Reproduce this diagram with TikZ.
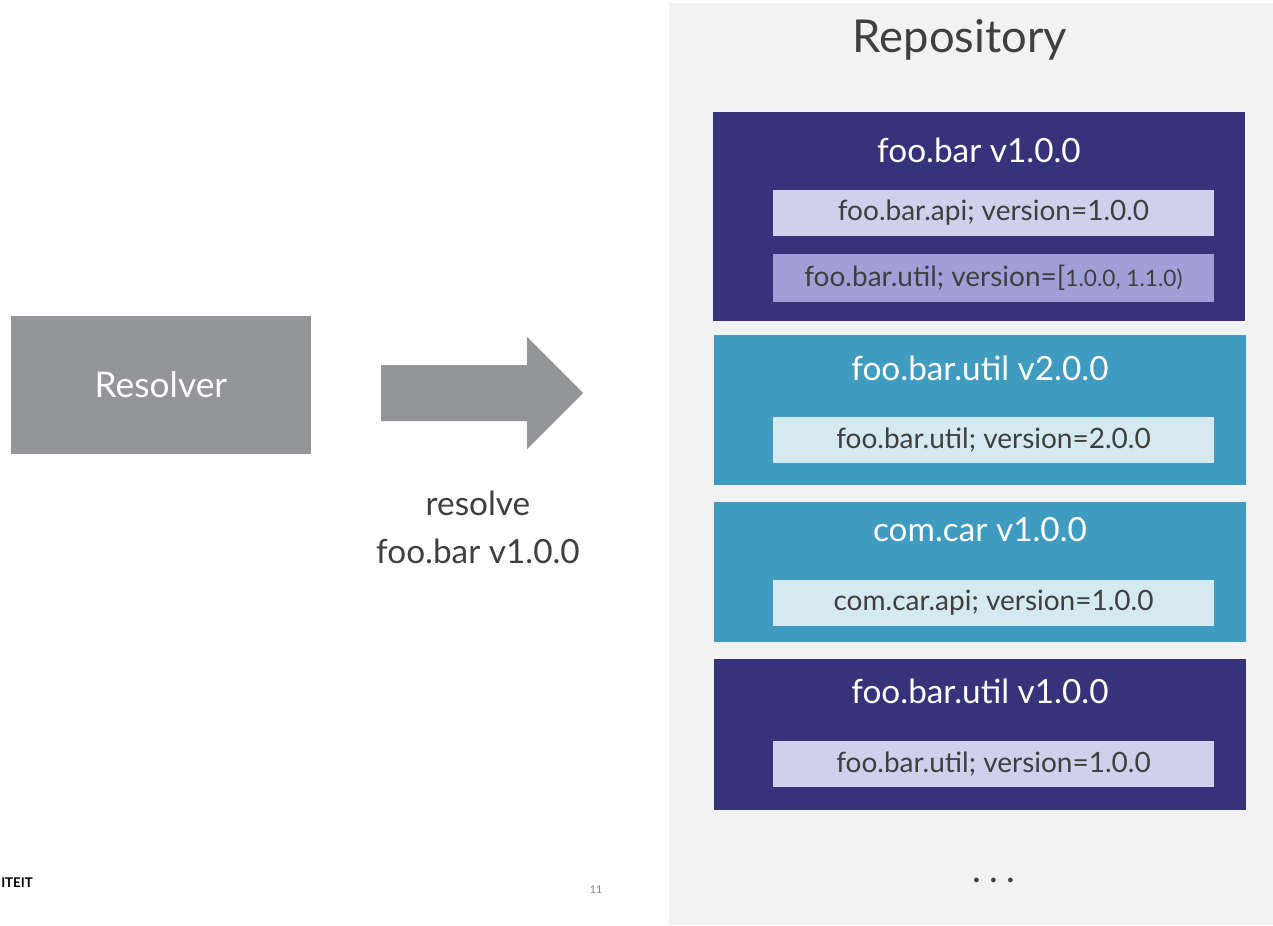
\documentclass[tikz,border=0pt]{standalone}
\usepackage{fontspec}
\setmainfont{Lato}
\usepackage{xcolor}
\usetikzlibrary{positioning}

\definecolor{pkgpurple}{HTML}{37337A}
\definecolor{pkgteal}{HTML}{409BC1}
\definecolor{apilight}{HTML}{D0CFEC}
\definecolor{apimid}{HTML}{A19FD7}
\definecolor{apiteal}{HTML}{D5E9F1}
\definecolor{resgray}{HTML}{939598}
\definecolor{repobg}{HTML}{F2F2F2}
\definecolor{textgray}{HTML}{3F3F3F}

\begin{document}
\begin{tikzpicture}[
      x=0.75pt, y=-0.75pt,
      pkg/.style={rectangle, anchor=north west, inner sep=0pt, minimum width=399pt},
      pkgtitle/.style={anchor=base, text=white, font=\fontsize{25}{29}\selectfont},
      bundle/.style={rectangle, inner sep=0pt, minimum width=330.75pt, minimum height=34.5pt, text=textgray, font=\fontsize{21}{24}\selectfont},
      bigtext/.style={text=textgray, font=\fontsize{25}{36}\selectfont, align=center}
    ]

    \useasboundingbox (0,0) rectangle (1273,925);

    % ============ REPOSITORY ============
    \fill[repobg] (669,3) rectangle (1273,925);
    \node[anchor=base, text=textgray, font=\fontsize{34}{40}\selectfont] (repo) at (960,52) {Repository};

    % foo.bar v1.0.0
    \node[pkg, fill=pkgpurple, minimum height=156.75pt] (foobar) at (713,112) {};
    \node[pkgtitle] (foobartitle) at (979,162) {foo.bar v1.0.0};
    \node[bundle, fill=apilight] (foobarapi) at (993.5,213) {foo.bar.api; version=1.0.0};
    \node[bundle, fill=apimid, minimum height=36pt, below=12.75pt of foobarapi] (foobarutil) {foo.bar.util; version=[{\fontsize{17}{20}\selectfont 1.0.0, 1.1.0)}};

    % foo.bar.util v2.0.0
    \node[pkg, fill=pkgteal, minimum height=112.5pt] (utiltwo) at (714,335) {};
    \node[pkgtitle] (utiltwotitle) at (980,380) {foo.bar.util v2.0.0};
    \node[bundle, fill=apiteal] (utiltwoapi) at (993.5,440) {foo.bar.util; version=2.0.0};

    % com.car v1.0.0
    \node[pkg, fill=pkgteal, minimum height=105pt] (comcar) at (714,502) {};
    \node[pkgtitle] (comcartitle) at (980,541) {com.car v1.0.0};
    \node[bundle, fill=apiteal] (comcarapi) at (993.5,603) {com.car.api; version=1.0.0};

    % foo.bar.util v1.0.0
    \node[pkg, fill=pkgpurple, minimum height=113.25pt] (utilone) at (714,659) {};
    \node[pkgtitle] (utilonetitle) at (980,703) {foo.bar.util v1.0.0};
    \node[bundle, fill=apilight] (utiloneapi) at (993.5,764) {foo.bar.util; version=1.0.0};

    \node[text=textgray, font=\fontsize{28}{30}\selectfont] (more) at (994,880) {.\hspace{6pt}.\hspace{6pt}.};

    % ============ RESOLVER ============
    \node[rectangle, fill=resgray, minimum width=225pt, minimum height=103.5pt, text=white, font=\fontsize{26.5}{30}\selectfont] (resolver) at (161,385) {Resolver};

    % big arrow
    \fill[resgray] (381,365) -- (527,365) -- (527,337) -- (583,393) -- (527,449) -- (527,421) -- (381,421) -- cycle;
    \node[bigtext] (resolve) at (478,527) {resolve\\foo.bar v1.0.0};

    % ============ FOOTER ============
    \node[anchor=west, inner sep=0pt, font=\bfseries\fontsize{10}{12}\selectfont] (uni) at (1,883) {ITEIT};
    \node[text=gray, font=\fontsize{8}{10}\selectfont] (page) at (596,890) {11};

  \end{tikzpicture}
\end{document}
